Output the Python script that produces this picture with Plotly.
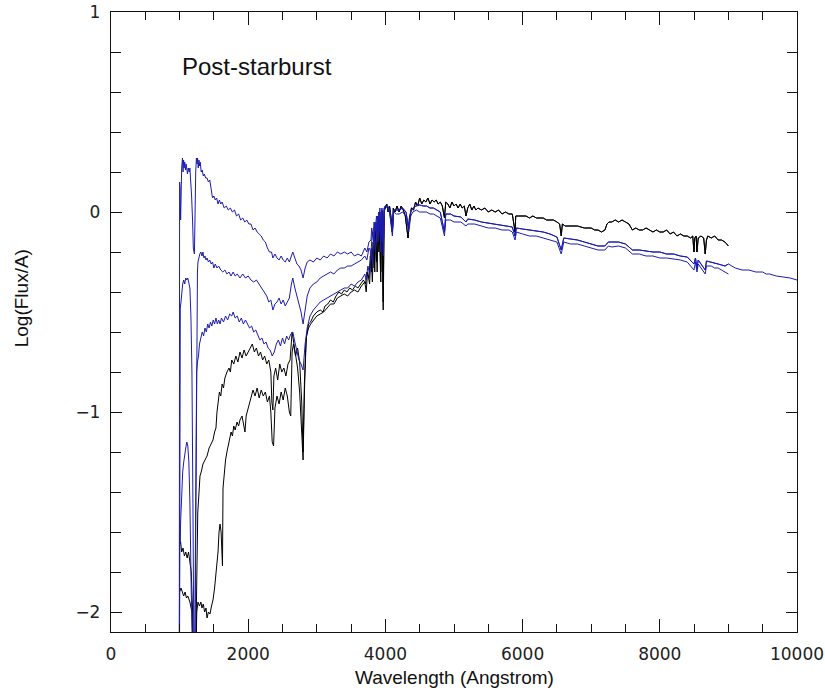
import plotly.graph_objects as go

# ---------------- data ----------------
# UV parts (1000-4000 A) of the five spectra
blue1_w = [995,1000,1008,1015,1022,1030,1042,1050,1058,1066,1075,1085,1095,1105,1115,1125,1140,1150,1160,1175,1190,1200,1216,1225,1235,1245,1255,1262,1272,1282,1292,1300,1315,1330,1345,1360,1380,1400,1420,1440,1460,1480,1500,1520,1540,1560,1580,1600,1620,1650,1680,1710,1740,1770,1800,1830,1860,1890,1920,1950,1980,2010,2040,2070,2100,2130,2160,2190,2220,2250,2280,2310,2340,2360,2390,2420,2450,2480,2510,2540,2570,2600,2630,2650,2680,2710,2740,2770,2800,2830,2860,2900,2950,3000,3050,3100,3150,3200,3250,3300,3350,3400,3450,3500,3550,3600,3650,3700,3730,3760,3790,3800,3820,3835,3850,3870,3889,3900,3920,3933,3945,3968,3980]
blue1_f = [-2.6,0.15,0.12,-0.04,0.14,0.22,0.27,0.2,0.26,0.22,0.25,0.21,0.24,0.2,0.19,0.22,0.2,0.22,0.18,0.08,-0.05,-0.18,-0.21,0.05,0.2,0.27,0.24,0.27,0.22,0.26,0.23,0.25,0.2,0.21,0.18,0.19,0.17,0.17,0.15,0.16,0.12,0.07,0.08,0.06,0.07,0.04,0.06,0.04,0.05,0.02,0.03,0.01,0.02,0.0,0.01,-0.02,-0.01,-0.04,-0.03,-0.05,-0.04,-0.06,-0.06,-0.09,-0.08,-0.1,-0.11,-0.12,-0.14,-0.15,-0.18,-0.2,-0.2,-0.23,-0.21,-0.23,-0.24,-0.22,-0.24,-0.25,-0.23,-0.25,-0.22,-0.2,-0.23,-0.26,-0.27,-0.29,-0.33,-0.28,-0.25,-0.24,-0.25,-0.23,-0.24,-0.22,-0.23,-0.21,-0.22,-0.2,-0.21,-0.2,-0.21,-0.2,-0.22,-0.21,-0.22,-0.18,-0.2,-0.15,-0.14,-0.08,-0.12,-0.05,-0.1,-0.02,-0.12,0.0,-0.03,-0.12,0.01,-0.1,0.02]

blue2_w = [996,1000,1004,1010,1020,1030,1045,1060,1075,1090,1105,1120,1135,1150,1165,1180,1195,1205,1216,1228,1240,1250,1260,1268,1280,1295,1310,1326,1340,1355,1370,1385,1400,1420,1440,1460,1480,1500,1520,1545,1570,1600,1630,1660,1690,1720,1750,1780,1810,1840,1880,1920,1960,2000,2040,2080,2120,2160,2200,2240,2270,2300,2330,2360,2390,2420,2450,2480,2510,2540,2570,2600,2630,2650,2680,2710,2740,2770,2800,2830,2860,2900,2950,3000,3050,3100,3150,3200,3250,3300,3350,3400,3450,3500,3550,3600,3650,3700,3730,3760,3790,3810,3830,3850,3870,3889,3905,3920,3933,3950,3968,3985]
blue2_f = [-2.6,-0.6,-0.7,-0.48,-0.45,-0.4,-0.36,-0.34,-0.36,-0.33,-0.34,-0.33,-0.36,-0.38,-0.52,-0.8,-1.5,-2.4,-2.6,-2.0,-1.1,-0.6,-0.3,-0.25,-0.22,-0.21,-0.2,-0.22,-0.2,-0.23,-0.22,-0.24,-0.23,-0.25,-0.24,-0.26,-0.25,-0.28,-0.26,-0.28,-0.27,-0.29,-0.3,-0.29,-0.31,-0.3,-0.32,-0.3,-0.32,-0.31,-0.33,-0.31,-0.33,-0.32,-0.34,-0.35,-0.34,-0.36,-0.38,-0.4,-0.42,-0.45,-0.44,-0.49,-0.46,-0.45,-0.43,-0.46,-0.44,-0.47,-0.45,-0.43,-0.36,-0.33,-0.38,-0.42,-0.46,-0.5,-0.56,-0.48,-0.42,-0.38,-0.36,-0.35,-0.33,-0.32,-0.31,-0.3,-0.31,-0.29,-0.28,-0.28,-0.27,-0.27,-0.26,-0.25,-0.24,-0.22,-0.24,-0.18,-0.2,-0.1,-0.16,-0.05,-0.12,-0.02,-0.1,0.02,-0.15,0.02,-0.15,0.02]

blue3_w = [996,1000,1008,1015,1030,1045,1060,1075,1090,1105,1120,1135,1150,1170,1190,1216,1228,1238,1248,1260,1275,1290,1310,1330,1350,1370,1390,1410,1430,1450,1470,1490,1510,1530,1550,1570,1590,1610,1640,1670,1700,1730,1760,1780,1810,1840,1870,1900,1930,1960,1990,2020,2050,2080,2110,2140,2170,2200,2230,2260,2290,2320,2350,2380,2410,2440,2470,2500,2530,2560,2590,2620,2650,2680,2710,2740,2770,2800,2830,2860,2900,2950,3000,3050,3100,3150,3200,3250,3300,3350,3400,3450,3500,3550,3600,3650,3700,3720,3745,3770,3795,3815,3835,3855,3875,3895,3915,3933,3950,3968,3985]
blue3_f = [-2.6,-1.6,-1.65,-1.55,-1.4,-1.3,-1.25,-1.2,-1.18,-1.15,-1.17,-1.25,-1.45,-1.9,-2.5,-2.6,-1.8,-1.0,-0.8,-0.75,-0.72,-0.66,-0.63,-0.6,-0.62,-0.58,-0.6,-0.56,-0.58,-0.55,-0.57,-0.54,-0.56,-0.53,-0.56,-0.54,-0.56,-0.53,-0.55,-0.52,-0.54,-0.51,-0.52,-0.5,-0.53,-0.52,-0.55,-0.53,-0.56,-0.54,-0.56,-0.58,-0.57,-0.6,-0.59,-0.62,-0.64,-0.63,-0.66,-0.65,-0.68,-0.69,-0.72,-0.7,-0.66,-0.64,-0.67,-0.63,-0.66,-0.62,-0.64,-0.61,-0.6,-0.65,-0.7,-0.74,-0.76,-0.79,-0.66,-0.58,-0.52,-0.49,-0.47,-0.45,-0.44,-0.43,-0.42,-0.41,-0.4,-0.39,-0.38,-0.38,-0.36,-0.37,-0.35,-0.34,-0.31,-0.34,-0.27,-0.31,-0.18,-0.26,-0.1,-0.2,-0.05,-0.15,0.0,-0.2,0.01,-0.22,0.02]

black1_w = [995,1000,1015,1030,1050,1070,1090,1110,1130,1150,1170,1190,1200,1216,1235,1250,1265,1280,1297,1315,1341,1370,1400,1430,1460,1487,1510,1530,1545,1560,1580,1600,1620,1640,1660,1690,1720,1740,1760,1790,1820,1850,1880,1910,1940,1970,2000,2030,2060,2090,2120,2150,2180,2210,2240,2270,2300,2330,2345,2360,2375,2400,2430,2460,2490,2520,2550,2580,2610,2640,2660,2690,2720,2750,2780,2800,2820,2840,2860,2880,2910,2950,3000,3050,3090,3120,3160,3200,3240,3280,3320,3360,3400,3440,3480,3520,3560,3600,3640,3680,3710,3730,3760,3780,3800,3820,3835,3850,3870,3889,3905,3920,3933,3950,3968,3980]
black1_f = [-2.6,-1.66,-1.65,-1.7,-1.68,-1.72,-1.7,-1.73,-1.7,-1.74,-1.8,-2.0,-2.4,-2.6,-2.2,-1.8,-1.5,-1.42,-1.32,-1.3,-1.26,-1.24,-1.22,-1.18,-1.16,-1.14,-1.1,-1.08,-1.0,-0.95,-0.9,-0.92,-0.86,-0.88,-0.83,-0.8,-0.78,-0.8,-0.74,-0.76,-0.72,-0.75,-0.7,-0.73,-0.69,-0.72,-0.7,-0.68,-0.66,-0.7,-0.68,-0.72,-0.7,-0.74,-0.72,-0.76,-0.74,-0.8,-0.95,-0.99,-0.82,-0.78,-0.84,-0.76,-0.8,-0.78,-0.82,-0.76,-0.74,-0.6,-0.64,-0.7,-0.78,-0.9,-1.1,-1.24,-0.9,-0.65,-0.6,-0.56,-0.55,-0.52,-0.5,-0.49,-0.5,-0.47,-0.46,-0.44,-0.45,-0.42,-0.4,-0.41,-0.39,-0.4,-0.38,-0.39,-0.37,-0.38,-0.36,-0.34,-0.36,-0.3,-0.33,-0.22,-0.3,-0.15,-0.28,-0.1,-0.25,-0.05,-0.2,0.0,-0.3,0.0,-0.45,0.0]

black2_w = [995,1000,1020,1040,1060,1080,1100,1120,1150,1180,1200,1216,1235,1250,1268,1290,1310,1326,1345,1365,1385,1400,1420,1443,1465,1487,1510,1530,1545,1560,1575,1589,1605,1615,1625,1633,1650,1670,1690,1710,1730,1750,1770,1790,1810,1837,1860,1880,1910,1930,1953,1970,2000,2030,2070,2100,2130,2160,2190,2220,2250,2280,2310,2330,2350,2370,2390,2420,2450,2480,2510,2540,2570,2600,2620,2640,2660,2690,2720,2750,2780,2800,2820,2850,2880,2910,2950,3000,3050,3100,3150,3200,3250,3300,3350,3400,3450,3500,3550,3600,3650,3700,3720,3740,3770,3790,3810,3830,3845,3860,3880,3895,3915,3933,3945,3968,3985]
black2_f = [-2.6,-1.9,-1.88,-1.9,-1.92,-1.9,-1.93,-1.92,-1.95,-2.0,-2.5,-2.6,-2.3,-2.0,-1.95,-1.97,-1.95,-1.98,-1.96,-2.0,-1.98,-2.03,-2.0,-2.01,-1.97,-1.94,-1.88,-1.8,-1.77,-1.7,-1.6,-1.56,-1.6,-1.7,-1.77,-1.38,-1.3,-1.24,-1.2,-1.17,-1.14,-1.1,-1.12,-1.07,-1.09,-1.05,-1.07,-1.04,-1.02,-1.06,-1.1,-1.02,-0.98,-0.94,-0.89,-0.92,-0.88,-0.93,-0.89,-0.92,-0.9,-0.95,-0.92,-1.0,-1.15,-1.17,-0.98,-0.92,-0.96,-0.9,-0.94,-0.88,-0.92,-1.0,-1.02,-0.7,-0.66,-0.72,-0.68,-0.75,-0.95,-1.2,-0.85,-0.62,-0.58,-0.56,-0.54,-0.52,-0.51,-0.5,-0.48,-0.46,-0.46,-0.43,-0.42,-0.41,-0.42,-0.4,-0.39,-0.4,-0.37,-0.35,-0.4,-0.3,-0.36,-0.2,-0.35,-0.12,-0.3,-0.08,-0.3,-0.02,-0.15,-0.35,0.0,-0.49,0.01]

# Optical parts (4000 A onwards)
black_opt_w = [4000,4020,4040,4060,4080,4102,4115,4140,4170,4200,4230,4260,4290,4310,4330,4350,4380,4410,4440,4470,4500,4530,4560,4590,4620,4650,4680,4710,4740,4770,4800,4830,4861,4880,4910,4940,4970,5000,5030,5060,5090,5120,5150,5175,5200,5230,5260,5290,5320,5350,5400,5450,5500,5550,5600,5650,5700,5750,5800,5850,5890,5900,5950,6000,6050,6100,6150,6200,6250,6300,6350,6400,6450,6500,6540,6563,6580,6620,6700,6800,6900,7000,7050,7100,7150,7200,7230,7260,7300,7350,7400,7450,7500,7550,7600,7650,7700,7750,7800,7850,7900,7950,8000,8050,8100,8150,8200,8250,8300,8350,8400,8450,8480,8498,8510,8530,8542,8560,8600,8640,8662,8680,8700,8750,8800,8850,8900,8950,9000]
black_opt_f = [0.02,0.04,0.0,0.03,-0.02,-0.1,0.02,0.0,0.03,0.0,0.03,0.01,-0.02,-0.08,-0.13,-0.03,0.02,0.01,0.05,0.03,0.07,0.04,0.06,0.05,0.07,0.04,0.06,0.05,0.06,0.04,0.05,0.03,-0.03,0.05,0.04,0.02,0.05,0.03,0.04,0.02,0.04,0.02,0.03,-0.02,0.02,0.04,0.01,0.03,0.01,0.02,0.01,0.02,0.0,0.01,0.0,0.01,-0.01,0.0,-0.01,-0.01,-0.1,-0.02,-0.02,-0.02,-0.02,-0.03,-0.02,-0.03,-0.03,-0.03,-0.04,-0.04,-0.04,-0.05,-0.06,-0.12,-0.06,-0.07,-0.07,-0.07,-0.08,-0.08,-0.09,-0.09,-0.1,-0.09,-0.06,-0.05,-0.05,-0.04,-0.05,-0.04,-0.05,-0.06,-0.09,-0.08,-0.09,-0.09,-0.08,-0.09,-0.1,-0.09,-0.1,-0.1,-0.09,-0.11,-0.1,-0.12,-0.11,-0.12,-0.12,-0.13,-0.12,-0.2,-0.13,-0.12,-0.2,-0.13,-0.12,-0.13,-0.21,-0.14,-0.12,-0.13,-0.12,-0.14,-0.14,-0.15,-0.17]

blue_lo_w = [4000,4030,4060,4102,4120,4160,4200,4250,4300,4340,4370,4400,4450,4500,4550,4600,4650,4700,4750,4800,4861,4880,4950,5000,5100,5175,5200,5300,5400,5500,5600,5700,5800,5850,5890,5910,6000,6100,6200,6300,6400,6500,6563,6600,6700,6800,6900,7000,7100,7200,7250,7300,7400,7500,7600,7700,7800,7900,8000,8100,8200,8300,8400,8498,8520,8542,8560,8662,8680,8750,8800,8850,8900,8950,9000]
blue_lo_f = [0.03,0.02,0.0,-0.12,0.0,-0.01,-0.01,0.0,-0.02,-0.1,-0.02,0.0,0.01,0.0,0.0,0.0,-0.01,-0.01,-0.02,-0.03,-0.12,-0.04,-0.04,-0.05,-0.05,-0.07,-0.06,-0.06,-0.07,-0.08,-0.08,-0.09,-0.09,-0.1,-0.14,-0.1,-0.11,-0.12,-0.12,-0.13,-0.14,-0.15,-0.21,-0.15,-0.16,-0.16,-0.17,-0.18,-0.19,-0.19,-0.17,-0.175,-0.17,-0.18,-0.21,-0.21,-0.22,-0.22,-0.23,-0.23,-0.235,-0.24,-0.25,-0.29,-0.25,-0.3,-0.26,-0.31,-0.27,-0.27,-0.28,-0.28,-0.29,-0.3,-0.31]

blue_hi_w = [4000,4030,4060,4102,4120,4160,4200,4250,4300,4340,4370,4400,4450,4500,4550,4600,4650,4700,4750,4800,4861,4880,4950,5000,5100,5175,5200,5300,5400,5500,5600,5700,5800,5850,5890,5910,6000,6100,6200,6300,6400,6500,6563,6600,6700,6800,6900,7000,7100,7200,7250,7300,7400,7500,7600,7700,7800,7900,8000,8100,8200,8300,8400,8498,8520,8542,8560,8662,8680,8750,8800,8850,8900,8950,9000,9100,9200,9300,9400,9500,9550,9600,9700,9800,9900,10000]
blue_hi_f = [0.03,0.03,0.01,-0.1,0.01,0.01,0.01,0.02,0.0,-0.08,0.0,0.02,0.03,0.035,0.03,0.03,0.02,0.02,0.01,0.0,-0.1,-0.01,-0.01,-0.02,-0.025,-0.05,-0.035,-0.04,-0.05,-0.055,-0.06,-0.065,-0.07,-0.075,-0.12,-0.08,-0.085,-0.09,-0.095,-0.1,-0.11,-0.125,-0.19,-0.13,-0.135,-0.14,-0.15,-0.16,-0.17,-0.17,-0.15,-0.15,-0.15,-0.16,-0.19,-0.19,-0.195,-0.2,-0.2,-0.21,-0.21,-0.22,-0.225,-0.26,-0.23,-0.28,-0.24,-0.29,-0.245,-0.25,-0.255,-0.26,-0.265,-0.27,-0.26,-0.28,-0.29,-0.29,-0.3,-0.3,-0.31,-0.31,-0.32,-0.325,-0.33,-0.34]

x_ticks = [0, 2000, 4000, 6000, 8000, 10000]
x_tick_labels = ["0", "2000", "4000", "6000", "8000", "10000"]
y_ticks = [-2, -1, 0, 1]
y_tick_labels = ["\u22122", "\u22121", "0", "1"]
panel_label = "Post-starburst"
x_title = "Wavelength (Angstrom)"
y_title = "Log(Flux/A)"

BLUE = "#1c1cae"
BLACK = "#000000"
TITLE_FONT = "Liberation Sans, Arial, sans-serif"


def upto(w, f, wmax):
    pairs = [(a, b) for a, b in zip(w, f) if a <= wmax]
    return [p[0] for p in pairs], [p[1] for p in pairs]


bh9_w, bh9_f = upto(blue_hi_w, blue_hi_f, 9000)

spectra = [
    (black1_w + black_opt_w, black1_f + black_opt_f, BLACK),
    (black2_w + black_opt_w, black2_f + black_opt_f, BLACK),
    (blue3_w + bh9_w, blue3_f + bh9_f, BLUE),
    (blue2_w + blue_hi_w, blue2_f + blue_hi_f, BLUE),
    (blue1_w + blue_lo_w, blue1_f + blue_lo_f, BLUE),
]

fig = go.Figure()
for w, f, c in spectra:
    fig.add_trace(go.Scatter(x=w, y=f, mode="lines",
                             line=dict(color=c, width=1), showlegend=False,
                             hoverinfo="skip"))

fig.add_annotation(x=1006, y=0.73, xref="x", yref="y", text=panel_label,
                   showarrow=False, xanchor="left", yanchor="middle",
                   font=dict(family=TITLE_FONT, size=24, color="#111"))
fig.add_annotation(x=0.5, y=-0.074, xref="paper", yref="paper", text=x_title,
                   showarrow=False, xanchor="center", yanchor="middle",
                   font=dict(family=TITLE_FONT, size=19, color="#111"))
fig.add_annotation(x=-0.13, y=0.538, xref="paper", yref="paper", text=y_title,
                   showarrow=False, xanchor="center", yanchor="middle",
                   textangle=-90,
                   font=dict(family=TITLE_FONT, size=19, color="#111"))

axis_common = dict(showgrid=False, zeroline=False, showline=True,
                   linecolor="#111", linewidth=1.3, mirror="ticks",
                   ticks="inside", tickcolor="#111", tickwidth=1,
                   automargin=False,
                   tickfont=dict(family="DejaVu Sans", size=17, color="#222"))

fig.update_xaxes(range=[0, 10000], tickvals=x_ticks, ticktext=x_tick_labels,
                 ticklen=13,
                 minor=dict(dtick=500, ticklen=8, ticks="inside",
                            tickcolor="#111", tickwidth=1),
                 ticklabelstandoff=6, **axis_common)
fig.update_yaxes(range=[-2.1, 1.0], tickvals=y_ticks, ticktext=y_tick_labels,
                 ticklen=11,
                 minor=dict(dtick=0.2, tick0=0, ticklen=10, ticks="inside",
                            tickcolor="#111", tickwidth=1),
                 ticklabelstandoff=6, **axis_common)

fig.update_layout(width=825, height=698, autosize=False,
                  margin=dict(l=111, r=28, t=12, b=66, pad=0),
                  paper_bgcolor="white", plot_bgcolor="white")

fig.write_html("out.html")
